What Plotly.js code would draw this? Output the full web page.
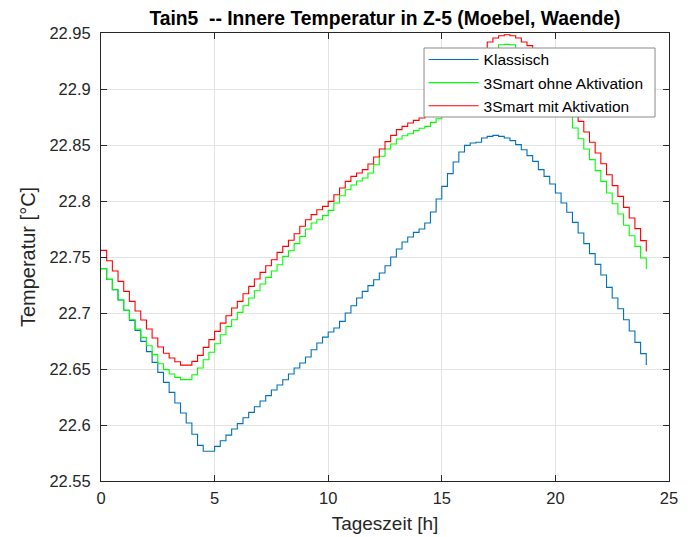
<!DOCTYPE html>
<html>
<head>
<meta charset="utf-8">
<script src="https://cdn.plot.ly/plotly-3.0.1.min.js"></script>
<style>html,body{margin:0;padding:0;background:#fff;}#chart{width:691px;height:537px;}</style>
</head>
<body>
<div id="chart"></div>
<script>
// time of day [h], 15-minute steps
const hours = [0,0.25,0.5,0.75,1,1.25,1.5,1.75,2,2.25,2.5,2.75,3,3.25,3.5,3.75,4,4.25,4.5,4.75,5,5.25,5.5,5.75,6,6.25,6.5,6.75,7,7.25,7.5,7.75,8,8.25,8.5,8.75,9,9.25,9.5,9.75,10,10.25,10.5,10.75,11,11.25,11.5,11.75,12,12.25,12.5,12.75,13,13.25,13.5,13.75,14,14.25,14.5,14.75,15,15.25,15.5,15.75,16,16.25,16.5,16.75,17,17.25,17.5,17.75,18,18.25,18.5,18.75,19,19.25,19.5,19.75,20,20.25,20.5,20.75,21,21.25,21.5,21.75,22,22.25,22.5,22.75,23,23.25,23.5,23.75,24];

const klassisch = [22.7396,22.7300,22.7208,22.7116,22.7024,22.6934,22.6845,22.6747,22.6655,22.6559,22.6470,22.6381,22.6291,22.6196,22.6107,22.6018,22.5917,22.5818,22.5765,22.5765,22.5809,22.5860,22.5910,22.5964,22.6012,22.6065,22.6113,22.6163,22.6214,22.6262,22.6312,22.6357,22.6404,22.6455,22.6509,22.6553,22.6607,22.6672,22.6732,22.6785,22.6830,22.6866,22.6925,22.7000,22.7065,22.7134,22.7193,22.7244,22.7297,22.7357,22.7422,22.7500,22.7571,22.7634,22.7678,22.7720,22.7750,22.7803,22.7902,22.8018,22.8131,22.8244,22.8348,22.8437,22.8497,22.8518,22.8524,22.8562,22.8577,22.8586,22.8577,22.8562,22.8539,22.8503,22.8458,22.8405,22.8354,22.8280,22.8220,22.8152,22.8071,22.7982,22.7899,22.7809,22.7714,22.7619,22.7530,22.7434,22.7339,22.7229,22.7134,22.7038,22.6940,22.6839,22.6738,22.6637,22.6536];

const smartOhne = [22.7396,22.7300,22.7208,22.7116,22.7024,22.6940,22.6857,22.6780,22.6708,22.6628,22.6547,22.6494,22.6455,22.6425,22.6405,22.6405,22.6449,22.6509,22.6583,22.6649,22.6726,22.6806,22.6881,22.6940,22.7006,22.7065,22.7134,22.7199,22.7259,22.7318,22.7375,22.7431,22.7506,22.7556,22.7619,22.7684,22.7750,22.7803,22.7833,22.7869,22.7916,22.7982,22.8047,22.8101,22.8143,22.8178,22.8205,22.8250,22.8324,22.8399,22.8464,22.8509,22.8553,22.8583,22.8601,22.8628,22.8649,22.8666,22.8702,22.8735,22.878,22.884,22.891,22.899,22.907,22.915,22.922,22.928,22.932,22.935,22.9395,22.9398,22.9395,22.935,22.932,22.928,22.921,22.914,22.906,22.898,22.890,22.883,22.8756,22.8652,22.8556,22.8464,22.8369,22.8271,22.8175,22.8071,22.7976,22.7884,22.7783,22.7690,22.7595,22.7491,22.7393];

const smartMit = [22.7559,22.7467,22.7375,22.7282,22.7193,22.7104,22.7018,22.6937,22.6857,22.6777,22.6696,22.6640,22.6598,22.6565,22.6535,22.6535,22.6568,22.6622,22.6693,22.6762,22.6836,22.6910,22.6976,22.7044,22.7104,22.7172,22.7238,22.7303,22.7363,22.7422,22.7476,22.7541,22.7595,22.7649,22.7708,22.7774,22.7833,22.7878,22.7922,22.7952,22.7997,22.8056,22.8116,22.8175,22.8220,22.8250,22.8280,22.8330,22.8393,22.8464,22.8530,22.8586,22.8637,22.8666,22.8696,22.8720,22.8741,22.8755,22.878,22.881,22.886,22.892,22.899,22.906,22.914,22.922,22.929,22.935,22.9420,22.9455,22.9475,22.9484,22.9475,22.9455,22.9420,22.9387,22.934,22.930,22.924,22.917,22.909,22.900,22.890,22.8805,22.8711,22.8616,22.8524,22.8428,22.8333,22.8235,22.8137,22.8041,22.7943,22.7848,22.7753,22.7646,22.7550];

const seriesNames = ['Klassisch', '3Smart ohne Aktivation', '3Smart mit Aktivation'];
const xTicks = [0, 5, 10, 15, 20, 25];
const yTicks = [22.55, 22.6, 22.65, 22.7, 22.75, 22.8, 22.85, 22.9, 22.95];
const titleText = 'Tain5\u00a0 -- Innere Temperatur in Z-5 (Moebel, Waende)';
const xTitle = 'Tageszeit [h]';
const yTitle = 'Temperatur [°C]';

const colors = ['#0072BD', '#00FF00', '#FF0000'];
const ys = [klassisch, smartOhne, smartMit];

const traces = ys.map((y, i) => ({
  x: hours, y: y, name: seriesNames[i], type: 'scatter', mode: 'lines',
  line: {shape: 'hv', color: colors[i], width: 1.1}
}));

const FONT = 'Liberation Sans, Arial, Helvetica, sans-serif';
const axisCommon = {
  showline: true, mirror: 'ticks', linecolor: '#262626', linewidth: 1,
  ticks: 'inside', ticklen: 6, tickcolor: '#262626', tickwidth: 1,
  showgrid: true, gridcolor: '#e3e3e3', gridwidth: 1, zeroline: false,
  tickfont: {family: FONT, size: 16.5, color: '#262626'}
};

const layout = {
  width: 691, height: 537,
  margin: {l: 101, r: 22, t: 33, b: 56},
  paper_bgcolor: '#fff', plot_bgcolor: '#fff',
  font: {family: FONT, color: '#262626'},
  title: {text: titleText, font: {family: FONT, size: 19.3, color: '#000', weight: 'bold'}, x: 0.557, xanchor: 'center', y: 0.966, yanchor: 'middle'},
  xaxis: Object.assign({}, axisCommon, {range: [0, 25], tickvals: xTicks, ticktext: xTicks.map(String), ticklabelstandoff: 2,
    title: {text: xTitle, font: {family: FONT, size: 19, color: '#262626'}, standoff: 10}}),
  yaxis: Object.assign({}, axisCommon, {range: [22.55, 22.95], tickvals: yTicks, ticktext: yTicks.map(v => v.toFixed(2).replace(/0$/, '')), ticklabelstandoff: 6,
    title: {text: yTitle, font: {family: FONT, size: 20, color: '#262626'}, standoff: 8}}),
  showlegend: true,
  // legend frame (white box with grey border) drawn as a shape; legend entries on top
  shapes: [{type: 'rect', xref: 'paper', yref: 'paper', x0: 0.5687, x1: 0.9754, y0: 0.8125, y1: 0.9665,
    fillcolor: '#fff', line: {color: '#8a8a8a', width: 1}, layer: 'above'}],
  legend: {x: 0.568, y: 0.978, xanchor: 'left', yanchor: 'top', bgcolor: 'rgba(0,0,0,0)', borderwidth: 0,
    font: {family: FONT, size: 15.5, color: '#000'}, itemwidth: 50, tracegroupgap: 0}
};

Plotly.newPlot('chart', traces, layout, {displayModeBar: false, staticPlot: true});
</script>
</body>
</html>
